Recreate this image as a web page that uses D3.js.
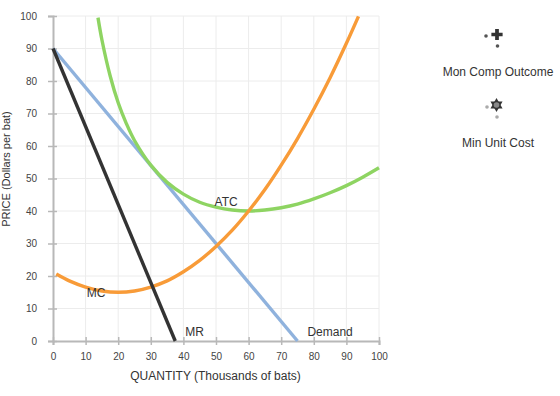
<!DOCTYPE html>
<html>
<head>
<meta charset="utf-8">
<script src="https://cdn.jsdelivr.net/npm/d3@7"></script>
<style>
  html, body { margin: 0; padding: 0; background: #fff; }
  svg { display: block; font-family: "Liberation Sans", Arial, Helvetica, sans-serif; }
</style>
</head>
<body>
<svg id="chart" width="560" height="396"></svg>
<script>
// ---- data ----
const xTicks = [0, 10, 20, 30, 40, 50, 60, 70, 80, 90, 100];
const yTicks = [0, 10, 20, 30, 40, 50, 60, 70, 80, 90, 100];

const demandQ = [0, 75];
const demandP = [90, 0];

const mrQ = [0, 37.5];
const mrP = [90, 0];

const mcQ = [1, 5, 10, 15, 20, 25, 30, 35, 40, 45, 50, 55, 60, 65, 70, 75, 80, 85, 90, 93.7];
const mcP = [20.6, 18.5, 16.6, 15.4, 15, 15.4, 16.6, 18.5, 21.3, 24.8, 29.1, 34.1, 40, 46.6, 54.1, 62.3, 71.3, 81.0, 91.6, 99.9];

const atcQ = [13.8, 15, 17.5, 20, 22.5, 25, 30, 35, 40, 45, 50, 55, 60, 65, 70, 75, 80, 85, 90, 95, 100];
const atcP = [99.5, 92.7, 81.7, 73.3, 66.9, 61.7, 54.1, 48.8, 45.2, 42.7, 41.2, 40.3, 40, 40.3, 41.0, 42.1, 43.7, 45.6, 47.8, 50.4, 53.3];

const curveLabels = ["MC", "ATC", "MR", "Demand"];
const curveLabelQ = [13.2, 53.1, 43.4, 85];
const curveLabelP = [13.5, 41.5, 1.6, 1.6];

const legendLabels = ["Mon Comp Outcome", "Min Unit Cost"];

// ---- layout ----
const svg = d3.select("#chart");
const x = d3.scaleLinear().domain([0, 100]).range([53, 379]);
const y = d3.scaleLinear().domain([0, 100]).range([341, 16]);

// grid
const grid = svg.append("g");
grid.selectAll("line.v").data(xTicks.slice(1)).join("line")
  .attr("x1", d => x(d)).attr("x2", d => x(d))
  .attr("y1", y(0)).attr("y2", y(100))
  .attr("stroke", "#ececec").attr("stroke-width", 1);
grid.selectAll("line.h").data(yTicks.slice(1)).join("line")
  .attr("x1", x(0)).attr("x2", x(100))
  .attr("y1", d => y(d)).attr("y2", d => y(d))
  .attr("stroke", "#ececec").attr("stroke-width", 1);

// axes
const xAxis = svg.append("g").attr("transform", `translate(0,${y(0)})`)
  .call(d3.axisBottom(x).tickValues(xTicks).tickSize(4).tickPadding(8).tickFormat(d3.format("d")));
const yAxis = svg.append("g").attr("transform", `translate(${x(0)},0)`)
  .call(d3.axisLeft(y).tickValues(yTicks).tickSize(5).tickPadding(11).tickFormat(d3.format("d")));

[xAxis, yAxis].forEach(a => {
  a.select(".domain").attr("stroke", "#b8b8b8").attr("stroke-width", 2);
  a.selectAll(".tick line").attr("stroke", "#b8b8b8").attr("stroke-width", 1.5);
  a.selectAll(".tick text").attr("fill", "#444").attr("font-size", 10)
    .attr("font-family", "'Liberation Sans', Arial, sans-serif");
});
xAxis.selectAll(".tick line").attr("y1", -4);
yAxis.selectAll(".tick line").attr("x1", 4);

// axis titles
svg.append("text").attr("x", 215.5).attr("y", 380)
  .attr("text-anchor", "middle").attr("font-size", 12).attr("fill", "#333")
  .text("QUANTITY (Thousands of bats)");
svg.append("text").attr("transform", `translate(10,169) rotate(-90)`)
  .attr("text-anchor", "middle").attr("font-size", 11).attr("fill", "#333")
  .text("PRICE (Dollars per bat)");

// curves
const line = d3.line().x(d => x(d[0])).y(d => y(d[1]));
const smooth = d3.line().x(d => x(d[0])).y(d => y(d[1])).curve(d3.curveCatmullRom.alpha(0.5));
const zip = (a, b) => a.map((v, i) => [v, b[i]]);

const plot = svg.append("g");
plot.append("path").attr("d", line(zip(demandQ, demandP)))
  .attr("fill", "none").attr("stroke", "#8fb2dd").attr("stroke-width", 3.4);
plot.append("path").attr("d", smooth(zip(atcQ, atcP)))
  .attr("fill", "none").attr("stroke", "#8ed462").attr("stroke-width", 3.4);
plot.append("path").attr("d", smooth(zip(mcQ, mcP)))
  .attr("fill", "none").attr("stroke", "#f89b38").attr("stroke-width", 3.4);
plot.append("path").attr("d", line(zip(mrQ, mrP)))
  .attr("fill", "none").attr("stroke", "#333333").attr("stroke-width", 3.4);

// curve labels
svg.append("g").selectAll("text").data(curveLabels).join("text")
  .attr("x", (d, i) => x(curveLabelQ[i]))
  .attr("y", (d, i) => y(curveLabelP[i]))
  .attr("text-anchor", "middle").attr("font-size", 12).attr("fill", "#333")
  .text(d => d);

// legend
const lg = svg.append("g");
// Mon Comp Outcome icon: plus
lg.append("path").attr("transform", "translate(497,34.5)")
  .attr("d", d3.symbol().type(d3.symbolCross).size(70)())
  .attr("fill", "#333");
lg.append("circle").attr("cx", 486).attr("cy", 36).attr("r", 1.8).attr("fill", "#555");
lg.append("circle").attr("cx", 497.5).attr("cy", 46).attr("r", 1.8).attr("fill", "#555");
// Min Unit Cost icon: hexagram
const hex = (cx, cy, r, rot) => d3.range(3).map(i => {
  const a = rot + i * 2 * Math.PI / 3;
  return [cx + r * Math.sin(a), cy - r * Math.cos(a)];
});
lg.append("polygon").attr("points", hex(496.5, 105, 7, 0).join(" ")).attr("fill", "#333");
lg.append("polygon").attr("points", hex(496.5, 105, 7, Math.PI).join(" ")).attr("fill", "#333");
lg.append("circle").attr("cx", 496.5).attr("cy", 105).attr("r", 2.8).attr("fill", "#888");
lg.append("circle").attr("cx", 487).attr("cy", 107).attr("r", 1.8).attr("fill", "#aaa");
lg.append("circle").attr("cx", 497).attr("cy", 117).attr("r", 1.8).attr("fill", "#aaa");

lg.selectAll("text").data(legendLabels).join("text")
  .attr("x", 498).attr("y", (d, i) => [76, 147][i])
  .attr("text-anchor", "middle").attr("font-size", 12).attr("fill", "#333")
  .text(d => d);
</script>
</body>
</html>
